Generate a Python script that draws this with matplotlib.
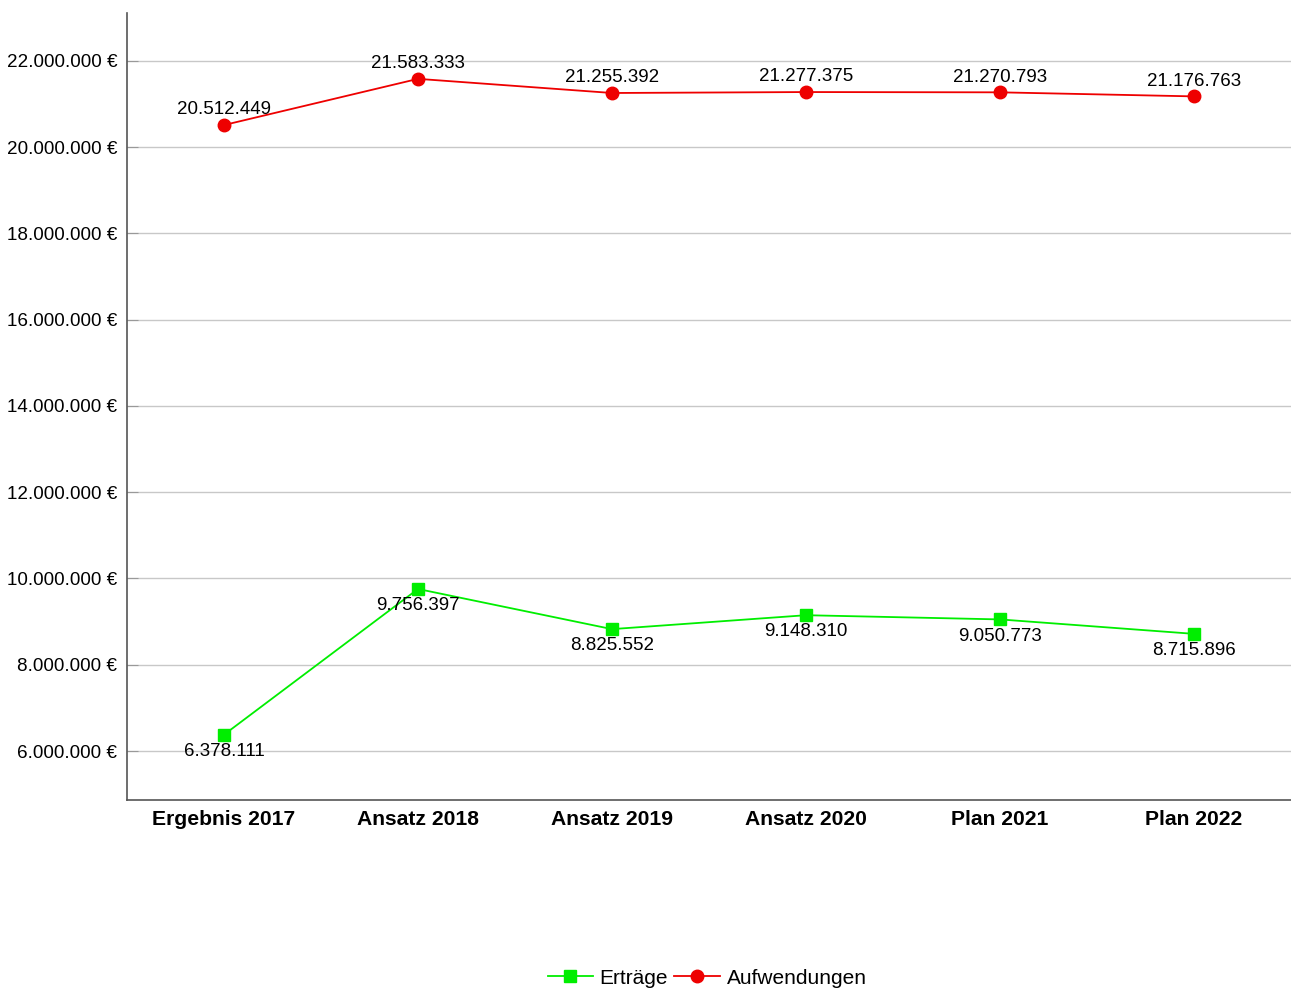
import matplotlib
matplotlib.use("Agg")
import matplotlib.pyplot as plt
from matplotlib.ticker import FuncFormatter

plt.rcParams['font.family'] = ['Liberation Sans', 'DejaVu Sans']

categories = ["Ergebnis 2017", "Ansatz 2018", "Ansatz 2019", "Ansatz 2020", "Plan 2021", "Plan 2022"]
ertraege = [6378111, 9756397, 8825552, 9148310, 9050773, 8715896]
aufwendungen = [20512449, 21583333, 21255392, 21277375, 21270793, 21176763]
yticks = [6000000, 8000000, 10000000, 12000000, 14000000, 16000000, 18000000, 20000000, 22000000]


def de_num(v):
    return f"{int(round(v)):,}".replace(",", ".")


fig = plt.figure(figsize=(12.91, 9.9), dpi=100)
ax = fig.add_axes([127 / 1291, 1 - 800 / 990, 1 - 127 / 1291, (800 - 13) / 990])

x = list(range(len(categories)))
ax.plot(x, ertraege, color="#00ee00", lw=1.3, marker="s", ms=8.5, label="Erträge", zorder=3)
ax.plot(x, aufwendungen, color="#ee0000", lw=1.3, marker="o", ms=9, label="Aufwendungen", zorder=3)

for xi, v in zip(x, ertraege):
    ax.annotate(de_num(v), (xi, v), xytext=(0, -12), textcoords="offset points",
                ha="center", va="center", fontsize=13.5)
for xi, v in zip(x, aufwendungen):
    ax.annotate(de_num(v), (xi, v), xytext=(0, 11), textcoords="offset points",
                ha="center", va="center", fontsize=13.5)

ax.set_xlim(-0.5, len(categories) - 0.5)
ax.set_ylim(4864000, 23110000)
ax.set_yticks(yticks)
ax.yaxis.set_major_formatter(FuncFormatter(lambda v, p: de_num(v) + " €"))
ax.set_xticks(x)
ax.set_xticklabels(categories, fontsize=15.2, fontweight="bold")
ax.tick_params(axis="y", direction="in", length=8, color="#999999", labelsize=13.6, pad=7)
ax.tick_params(axis="x", length=0, pad=7)
ax.grid(axis="y", color="#c8c8c8", lw=1)
ax.set_axisbelow(True)
for s in ["top", "right"]:
    ax.spines[s].set_visible(False)
for s in ["left", "bottom"]:
    ax.spines[s].set_color("#555555")
    ax.spines[s].set_linewidth(1.2)

fig.legend(loc="center", bbox_to_anchor=(707 / 1291, 1 - 978 / 990), ncol=2, frameon=False,
           fontsize=15, handlelength=2.2, handletextpad=0.3, columnspacing=0.3)

fig.savefig("out.png", dpi=100)
